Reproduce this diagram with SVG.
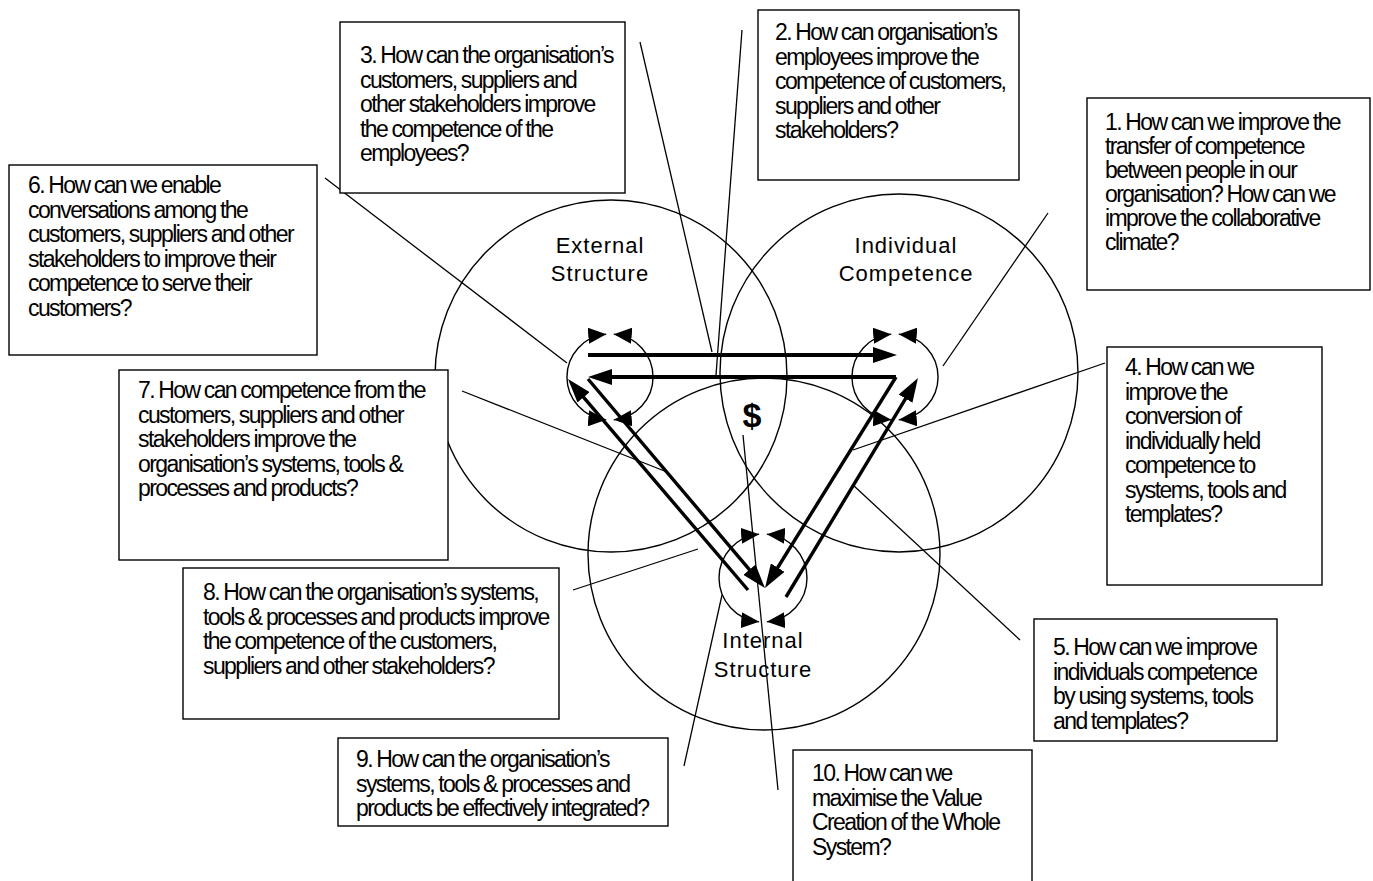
<svg xmlns="http://www.w3.org/2000/svg" width="1373" height="881" viewBox="0 0 1373 881">
<defs>
<style>
.big{fill:none;stroke:#000;stroke-width:1.4}
.sm{fill:none;stroke:#000;stroke-width:1.4;marker-start:url(#sa);marker-end:url(#sa)}
.thin{fill:none;stroke:#000;stroke-width:1.3}
.thk{fill:none;stroke:#000;stroke-width:4;marker-end:url(#ba)}
.thd{fill:none;stroke:#000;stroke-width:3.4;marker-end:url(#ba)}
.box{fill:#fff;stroke:#000;stroke-width:1.4}
.q{font-family:"Liberation Sans",Arial,sans-serif;font-size:23px;letter-spacing:-1.6px;word-spacing:-0.5px;fill:#000}
.lbl{font-family:"Liberation Sans",Arial,sans-serif;font-size:22px;letter-spacing:1px;fill:#000;text-anchor:middle}
.dol{font-family:"Liberation Sans",Arial,sans-serif;font-size:34px;font-weight:bold;fill:#000;text-anchor:middle}
</style>
<marker id="sa" markerUnits="userSpaceOnUse" viewBox="0 0 18 16" markerWidth="18" markerHeight="16" refX="18" refY="8" orient="auto-start-reverse">
<path d="M0,0 L18,8 L0,16 z" fill="#000"/>
</marker>
<marker id="ba" markerUnits="userSpaceOnUse" viewBox="0 0 24 16" markerWidth="24" markerHeight="16" refX="14" refY="8" orient="auto">
<path d="M0,0 L24,8 L0,16 z" fill="#000"/>
</marker>
</defs>
<rect width="1373" height="881" fill="#fff"/>

<g id="external-structure">
<circle class="big" cx="611" cy="376" r="176"/>
<text class="lbl" x="600" y="253">External</text>
<text class="lbl" x="600" y="281">Structure</text>
</g>
<g id="individual-competence">
<circle class="big" cx="899" cy="373" r="179"/>
<text class="lbl" x="906" y="253">Individual</text>
<text class="lbl" x="906" y="281">Competence</text>
</g>
<g id="internal-structure">
<circle class="big" cx="764" cy="554" r="176"/>
<text class="lbl" x="763" y="648">Internal</text>
<text class="lbl" x="763" y="677">Structure</text>
</g>
<g id="value-creation">
<text class="dol" x="752" y="427">$</text>
</g>

<g id="self-loops">
<path class="sm" d="M606.25,334.16 A43,43 0 0 0 606.25,419.84"/>
<path class="sm" d="M613.75,334.16 A43,43 0 0 1 613.75,419.84"/>
<path class="sm" d="M891.25,334.16 A43,43 0 0 0 891.25,419.84"/>
<path class="sm" d="M898.75,334.16 A43,43 0 0 1 898.75,419.84"/>
<path class="sm" d="M759.16,534.17 A44,44 0 0 0 759.16,621.83"/>
<path class="sm" d="M766.84,534.17 A44,44 0 0 1 766.84,621.83"/>
</g>

<g id="connectors">
<line class="thin" x1="1048" y1="213" x2="943" y2="366"/>
<line class="thin" x1="742" y1="30" x2="716" y2="375"/>
<line class="thin" x1="640" y1="42" x2="712" y2="352"/>
<line class="thin" x1="325" y1="178" x2="567" y2="363"/>
<line class="thin" x1="462" y1="391" x2="667" y2="472"/>
<line class="thin" x1="1105" y1="363" x2="853" y2="450"/>
<line class="thin" x1="1020" y1="640" x2="853" y2="485"/>
<line class="thin" x1="573" y1="590" x2="698" y2="549"/>
<line class="thin" x1="684" y1="766" x2="722" y2="595"/>
<line class="thin" x1="778" y1="790" x2="743" y2="435"/>
<path class="thk" d="M588,355 L887,355"/>
<path class="thk" d="M896,377 L598,377"/>
<path class="thd" d="M748,590 L574.5,386.6"/>
<path class="thd" d="M588,379 L758.5,580.4"/>
<path class="thd" d="M896,377 L770.3,579.5"/>
<path class="thd" d="M786,597 L912.8,386.6"/>
</g>

<g id="q1">
<rect class="box" x="1087" y="98" width="283" height="192"/>
<text class="q"><tspan x="1105" y="130">1. How can we improve the</tspan><tspan x="1105" y="154">transfer of competence</tspan><tspan x="1105" y="178">between people in our</tspan><tspan x="1105" y="202">organisation? How can we</tspan><tspan x="1105" y="226">improve the collaborative</tspan><tspan x="1105" y="250">climate?</tspan></text>
</g>
<g id="q2">
<rect class="box" x="758" y="10" width="261" height="170"/>
<text class="q"><tspan x="775" y="40">2. How can organisation’s</tspan><tspan x="775" y="64.5">employees improve the</tspan><tspan x="775" y="89">competence of customers,</tspan><tspan x="775" y="113.5">suppliers and other</tspan><tspan x="775" y="138">stakeholders?</tspan></text>
</g>
<g id="q3">
<rect class="box" x="340" y="22" width="285" height="171"/>
<text class="q"><tspan x="360" y="63">3. How can the organisation’s</tspan><tspan x="360" y="87.5">customers, suppliers and</tspan><tspan x="360" y="112">other stakeholders improve</tspan><tspan x="360" y="136.5">the competence of the</tspan><tspan x="360" y="161">employees?</tspan></text>
</g>
<g id="q4">
<rect class="box" x="1107" y="347" width="215" height="238"/>
<text class="q"><tspan x="1125" y="375">4. How can we</tspan><tspan x="1125" y="399.5">improve the</tspan><tspan x="1125" y="424">conversion of</tspan><tspan x="1125" y="448.5">individually held</tspan><tspan x="1125" y="473">competence to</tspan><tspan x="1125" y="497.5">systems, tools and</tspan><tspan x="1125" y="522">templates?</tspan></text>
</g>
<g id="q5">
<rect class="box" x="1034" y="619" width="243" height="122"/>
<text class="q"><tspan x="1053" y="655">5. How can we improve</tspan><tspan x="1053" y="679.5">individuals competence</tspan><tspan x="1053" y="704">by using systems, tools</tspan><tspan x="1053" y="728.5">and templates?</tspan></text>
</g>
<g id="q6">
<rect class="box" x="9" y="165" width="308" height="190"/>
<text class="q"><tspan x="28" y="193">6. How can we enable</tspan><tspan x="28" y="217.5">conversations among the</tspan><tspan x="28" y="242">customers, suppliers and other</tspan><tspan x="28" y="266.5">stakeholders to improve their</tspan><tspan x="28" y="291">competence to serve their</tspan><tspan x="28" y="315.5">customers?</tspan></text>
</g>
<g id="q7">
<rect class="box" x="119" y="370" width="329" height="190"/>
<text class="q"><tspan x="138" y="398">7. How can competence from the</tspan><tspan x="138" y="422.5">customers, suppliers and other</tspan><tspan x="138" y="447">stakeholders improve the</tspan><tspan x="138" y="471.5">organisation’s systems, tools &amp;</tspan><tspan x="138" y="496">processes and products?</tspan></text>
</g>
<g id="q8">
<rect class="box" x="183" y="568" width="376" height="151"/>
<text class="q"><tspan x="203" y="600">8. How can the organisation’s systems,</tspan><tspan x="203" y="624.5">tools &amp; processes and products improve</tspan><tspan x="203" y="649">the competence of the customers,</tspan><tspan x="203" y="673.5">suppliers and other  stakeholders?</tspan></text>
</g>
<g id="q9">
<rect class="box" x="338" y="738" width="330" height="88"/>
<text class="q"><tspan x="356" y="767">9. How can the organisation’s</tspan><tspan x="356" y="791.5">systems, tools &amp; processes and</tspan><tspan x="356" y="816">products be effectively integrated?</tspan></text>
</g>
<g id="q10">
<rect class="box" x="793" y="750" width="239" height="140"/>
<text class="q"><tspan x="812" y="781">10. How can we</tspan><tspan x="812" y="805.5">maximise the Value</tspan><tspan x="812" y="830">Creation of the Whole</tspan><tspan x="812" y="854.5">System?</tspan></text>
</g>
</svg>
